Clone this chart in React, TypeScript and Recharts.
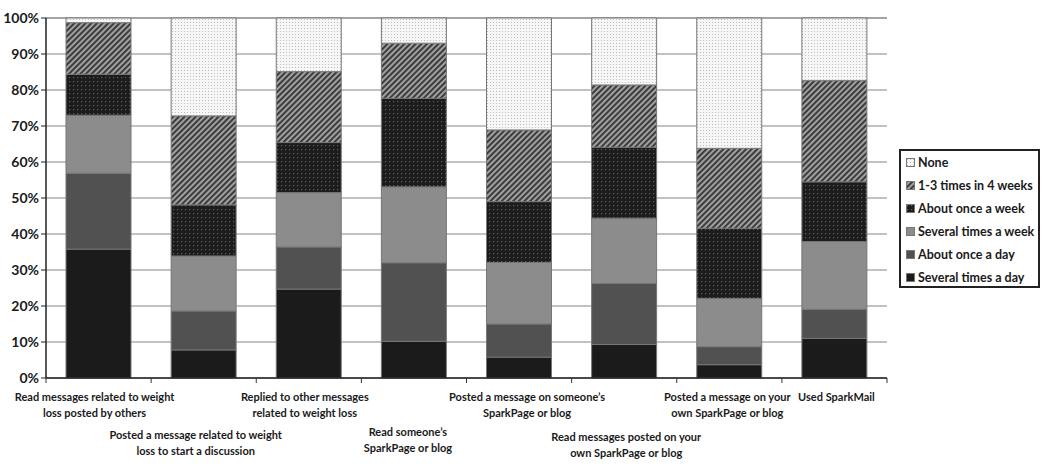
import React from 'react';
import { BarChart, Bar, XAxis, YAxis, CartesianGrid, Legend } from 'recharts';

const categories = [
  'Read messages related to weight\nloss posted by others',
  'Posted a message related to weight\nloss to start a discussion',
  'Replied to other messages\nrelated to weight loss',
  'Read someone\u2019s\nSparkPage or blog',
  'Posted a message on someone\u2019s\nSparkPage or blog',
  'Read messages posted on your\nown SparkPage or blog',
  'Posted a message on your\nown SparkPage or blog',
  'Used SparkMail',
];

const severalDay = [35.8, 7.8, 24.7, 10.2, 5.8, 9.3, 3.7, 11.0];
const onceDay = [21.1, 10.8, 11.7, 21.8, 9.2, 17.0, 5.0, 8.1];
const severalWeek = [16.1, 15.3, 15.1, 21.1, 17.1, 18.1, 13.4, 18.8];
const onceWeek = [11.4, 14.2, 13.9, 24.6, 16.9, 19.7, 19.5, 16.6];
const fewPerMonth = [14.3, 24.7, 19.7, 15.3, 19.9, 17.3, 22.2, 28.1];
const none = [1.3, 27.2, 14.9, 7.0, 31.1, 18.6, 36.2, 17.4];

const yTicks = [0, 10, 20, 30, 40, 50, 60, 70, 80, 90, 100];

// bottom to top
const series = [
  { key: 'severalDay', name: 'Several times a day', fill: '#1b1b1b' },
  { key: 'onceDay', name: 'About once a day', fill: '#515151' },
  { key: 'severalWeek', name: 'Several times a week', fill: '#8c8c8c' },
  { key: 'onceWeek', name: 'About once a week', fill: 'url(#dotsDark)' },
  { key: 'fewPerMonth', name: '1-3 times in 4 weeks', fill: 'url(#stripes)' },
  { key: 'none', name: 'None', fill: 'url(#dotsLight)' },
];

const data = categories.map((name, i) => ({
  name,
  severalDay: severalDay[i],
  onceDay: onceDay[i],
  severalWeek: severalWeek[i],
  onceWeek: onceWeek[i],
  fewPerMonth: fewPerMonth[i],
  none: none[i],
}));

const W = 1050;
const H = 468;
const M = { top: 18, right: 163, left: 6, bottom: 0 };
const Y_W = 40;
const catW = (W - M.left - Y_W - M.right) / categories.length;
const FONT = 'Lato, sans-serif';

// staggered labels: extra drop for the second row, small sideways nudges
const rowShift = [0, 38, 0, 35, 0, 40, 0, 0];
const colShift = [-4, -8, -4, -6, 8, 2, -2, 2];

const CatTick = (props: any) => {
  const { x, y, payload, index } = props;
  const lines = String(payload.value).split('\n');
  const base = y + 23 + (rowShift[index] || 0);
  const cx = x + (colShift[index] || 0);
  return (
    <g>
      <line x1={x - catW / 2} y1={y} x2={x - catW / 2} y2={y + 5} stroke="#333" />
      {index === categories.length - 1 && (
        <line x1={x + catW / 2} y1={y} x2={x + catW / 2} y2={y + 5} stroke="#333" />
      )}
      <text textAnchor="middle" fontFamily={FONT} fontWeight={700} fontSize={11} fill="#1a1a1a">
        {lines.map((l, k) => (
          <tspan key={k} x={cx} y={base + k * 15.5}>
            {l}
          </tspan>
        ))}
      </text>
    </g>
  );
};

const Swatch = ({ fill }: { fill: string }) => (
  <svg width={9} height={9} style={{ display: 'block', flex: 'none' }}>
    <rect x={0.5} y={0.5} width={8} height={8} fill={fill} stroke="#777" />
  </svg>
);

const LegendBox = () => (
  <div
    style={{
      width: 141,
      height: 139,
      boxSizing: 'border-box',
      border: '2px solid #222',
      background: '#fff',
      paddingLeft: 5,
      fontFamily: FONT,
      fontWeight: 700,
      fontSize: 12.5,
      color: '#1a1a1a',
    }}
  >
    {[...series].reverse().map((s) => (
      <div key={s.key} style={{ display: 'flex', alignItems: 'center', height: 23, gap: 3 }}>
        <Swatch fill={s.fill} />
        <span style={{ whiteSpace: 'nowrap' }}>{s.name}</span>
      </div>
    ))}
  </div>
);

export default function App() {
  return (
    <div style={{ position: 'absolute', left: 0, top: 0, width: W, height: H, background: '#fff' }}>
      <BarChart width={W} height={H} data={data} margin={M}>
        <defs>
          <pattern id="dotsDark" width="4" height="4" patternUnits="userSpaceOnUse">
            <rect width="4" height="4" fill="#1c1c1c" />
            <rect x="1" y="1" width="1.2" height="1.2" fill="#5e5e5e" />
          </pattern>
          <pattern id="stripes" width="4" height="4" patternUnits="userSpaceOnUse" patternTransform="rotate(45)">
            <rect width="4" height="4" fill="#a0a0a0" />
            <rect width="2" height="4" fill="#3c3c3c" />
          </pattern>
          <pattern id="dotsLight" width="3" height="3" patternUnits="userSpaceOnUse">
            <rect width="3" height="3" fill="#f6f6f6" />
            <rect x="1" y="1" width="1" height="1" fill="#bdbdbd" />
          </pattern>
        </defs>
        <CartesianGrid vertical={false} stroke="#858585" strokeWidth={1} />
        <XAxis
          dataKey="name"
          interval={0}
          height={90}
          tickLine={false}
          tickSize={0}
          tickMargin={0}
          axisLine={{ stroke: '#222', strokeWidth: 1.5 }}
          tick={<CatTick />}
        />
        <YAxis
          width={Y_W}
          domain={[0, 100]}
          ticks={yTicks}
          interval={0}
          tickFormatter={(v) => `${v}%`}
          tickSize={5}
          tickMargin={2}
          tickLine={{ stroke: '#222' }}
          axisLine={{ stroke: '#222', strokeWidth: 1.5 }}
          tick={{ fontFamily: FONT, fontWeight: 700, fontSize: 14, fill: '#1a1a1a' }}
        />
        <Legend
          layout="horizontal"
          verticalAlign="middle"
          align="center"
          content={() => <LegendBox />}
          wrapperStyle={{ left: 899, top: 149, width: 141, height: 139 }}
        />
        {series.map((s) => (
          <Bar
            key={s.key}
            dataKey={s.key}
            name={s.name}
            stackId="a"
            fill={s.fill}
            stroke="#777"
            strokeWidth={1}
            barSize={65}
            isAnimationActive={false}
          />
        ))}
      </BarChart>
    </div>
  );
}
